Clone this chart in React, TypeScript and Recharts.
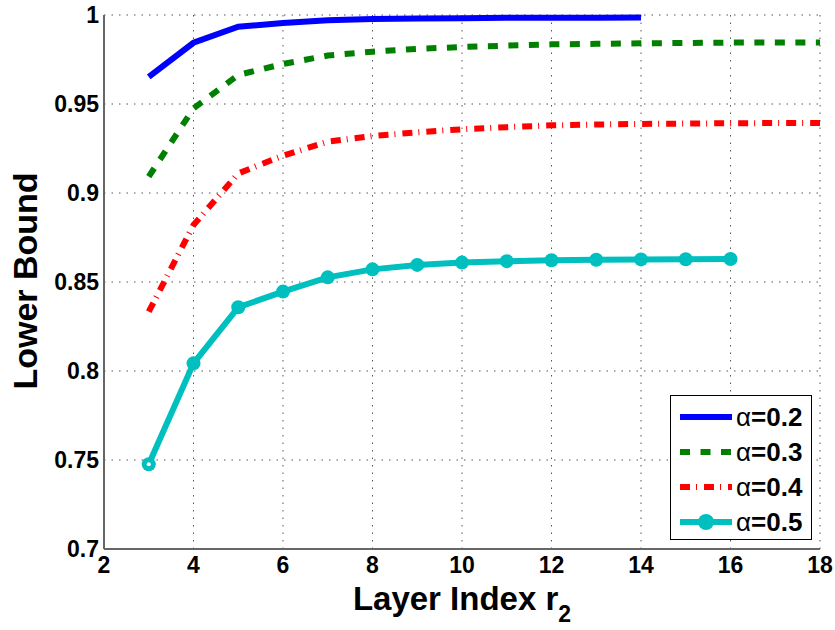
import React from "react";
import { LineChart, Line, XAxis, YAxis, CartesianGrid, Legend } from "recharts";

// layer index r2
const X_VALUES = [3, 4, 5, 6, 7, 8, 9, 10, 11, 12, 13, 14, 15, 16, 17, 18];
const ALPHA_02 = [0.9652, 0.9844, 0.9934, 0.9955, 0.997, 0.9978, 0.998, 0.9982, 0.9984, 0.9985, 0.9985, 0.9986];
const ALPHA_03 = [0.9092, 0.9475, 0.9663, 0.9725, 0.9772, 0.9794, 0.981, 0.982, 0.9828, 0.9835, 0.9838, 0.9841, 0.9843, 0.9845, 0.9846, 0.9846];
const ALPHA_04 = [0.8333, 0.882, 0.911, 0.921, 0.9288, 0.932, 0.9341, 0.9358, 0.937, 0.938, 0.9385, 0.9388, 0.939, 0.9392, 0.9393, 0.9393];
const ALPHA_05 = [0.7476, 0.8043, 0.8358, 0.8446, 0.8526, 0.8571, 0.8596, 0.8609, 0.8617, 0.8622, 0.8625, 0.8627, 0.8628, 0.8629];

const X_TICKS = [2, 4, 6, 8, 10, 12, 14, 16, 18];
const Y_TICKS = [0.7, 0.75, 0.8, 0.85, 0.9, 0.95, 1];

const X_MINOR: number[] = [];
for (let i = 0; i <= 80; i++) X_MINOR.push(2 + i * 0.2);
const Y_MINOR: number[] = [];
for (let i = 0; i <= 60; i++) Y_MINOR.push(0.7 + i * 0.005);

const SERIES = [
  { key: "a02", label: "0.2", color: "#0000ff", dash: undefined as string | undefined },
  { key: "a03", label: "0.3", color: "#008000", dash: "10 10.5" },
  { key: "a04", label: "0.4", color: "#ff0000", dash: "10 6 1 7" },
  { key: "a05", label: "0.5", color: "#00bfbf", dash: undefined },
];

const data = X_VALUES.map((x, i) => ({
  x,
  a02: ALPHA_02[i],
  a03: ALPHA_03[i],
  a04: ALPHA_04[i],
  a05: ALPHA_05[i],
}));

const FONT = "'Liberation Sans', Arial, Helvetica, sans-serif";
const tickStyle = { fill: "#000", fontSize: 23, fontWeight: 700, fontFamily: FONT };

const CyanDot = (props: any) => {
  const { cx, cy, index } = props;
  if (cx == null || cy == null) return null;
  return (
    <g key={`dot-${index}`}>
      <circle cx={cx} cy={cy} r={7} fill="#00bfbf" />
      {index === 0 && <circle cx={cx} cy={cy} r={2} fill="#fff" />}
    </g>
  );
};

const LegendBox = () => (
  <div
    style={{
      width: 142,
      height: 145,
      border: "1.5px solid #000",
      background: "#fff",
      boxSizing: "border-box",
      position: "relative",
      fontFamily: FONT,
    }}
  >
    {SERIES.map((s, i) => (
      <div key={s.key} style={{ position: "absolute", left: 0, top: 6 + i * 35, height: 30, width: 140 }}>
        <svg width={64} height={30} style={{ position: "absolute", left: 0, top: 0 }}>
          <line x1={9} x2={61} y1={15} y2={15} stroke={s.color} strokeWidth={6} strokeDasharray={s.dash} />
          {s.key === "a05" && <circle cx={35} cy={15} r={8} fill={s.color} />}
        </svg>
        <span style={{ position: "absolute", left: 65, top: 0, fontSize: 26, lineHeight: "30px", color: "#000", whiteSpace: "nowrap" }}>
          <span style={{ fontWeight: 400 }}>α</span>
          <span style={{ fontWeight: 700 }}>={s.label}</span>
        </span>
      </div>
    ))}
  </div>
);

export default function App() {
  return (
    <div style={{ position: "absolute", left: 0, top: 0, width: 835, height: 630, background: "#fff" }}>
      <LineChart width={835} height={630} data={data} margin={{ top: 15, right: 15, left: 40, bottom: 31 }}>
        <CartesianGrid stroke="#555" strokeDasharray="1.5 6" />
        <XAxis
          dataKey="x"
          type="number"
          domain={[2, 18]}
          ticks={X_TICKS}
          interval={0}
          height={50}
          tick={tickStyle}
          tickSize={0}
          tickMargin={8}
          axisLine={{ stroke: "#666", strokeWidth: 2 }}
          label={{
            content: () => (
              <text x={462} y={610} textAnchor="middle" fontFamily={FONT} fontWeight={700} fontSize={33} fill="#000">
                <tspan>Layer Index r</tspan>
                <tspan dy={12} fontSize={23}>2</tspan>
              </text>
            ),
          }}
        />
        <XAxis xAxisId="minor" dataKey="x" type="number" domain={[2, 18]} ticks={X_MINOR} interval={0} mirror tick={false} tickSize={3} axisLine={false} tickLine={{ stroke: "#666" }} />
        <XAxis xAxisId="major" dataKey="x" type="number" domain={[2, 18]} ticks={X_TICKS} interval={0} mirror tick={false} tickSize={6} axisLine={false} tickLine={{ stroke: "#666" }} />
        <YAxis
          type="number"
          domain={[0.7, 1]}
          ticks={Y_TICKS}
          interval={0}
          width={64}
          tick={tickStyle}
          tickSize={0}
          tickMargin={5}
          tickFormatter={(v: number) => String(+v.toFixed(2))}
          axisLine={{ stroke: "#666", strokeWidth: 2 }}
          label={{
            content: () => (
              <text x={37} y={281} transform="rotate(-90 37 281)" textAnchor="middle" fontFamily={FONT} fontWeight={700} fontSize={34} fill="#000">
                Lower Bound
              </text>
            ),
          }}
        />
        <YAxis yAxisId="minor" type="number" domain={[0.7, 1]} ticks={Y_MINOR} interval={0} mirror tick={false} tickSize={3} axisLine={false} tickLine={{ stroke: "#666" }} />
        <YAxis yAxisId="major" type="number" domain={[0.7, 1]} ticks={Y_TICKS} interval={0} mirror tick={false} tickSize={6} axisLine={false} tickLine={{ stroke: "#666" }} />
        <Legend
          layout="vertical"
          align="center"
          verticalAlign="middle"
          content={() => <LegendBox />}
          wrapperStyle={{ position: "absolute", left: 670, top: 395, width: 142, height: 145 }}
        />
        <Line dataKey="a02" stroke="#0000ff" strokeWidth={6} dot={false} isAnimationActive={false} />
        <Line dataKey="a03" stroke="#008000" strokeWidth={6} strokeDasharray="10 10.5" dot={false} isAnimationActive={false} />
        <Line dataKey="a04" stroke="#ff0000" strokeWidth={6} strokeDasharray="10 6 1 7" dot={false} isAnimationActive={false} />
        <Line dataKey="a05" stroke="#00bfbf" strokeWidth={6} dot={CyanDot} isAnimationActive={false} />
      </LineChart>
    </div>
  );
}
